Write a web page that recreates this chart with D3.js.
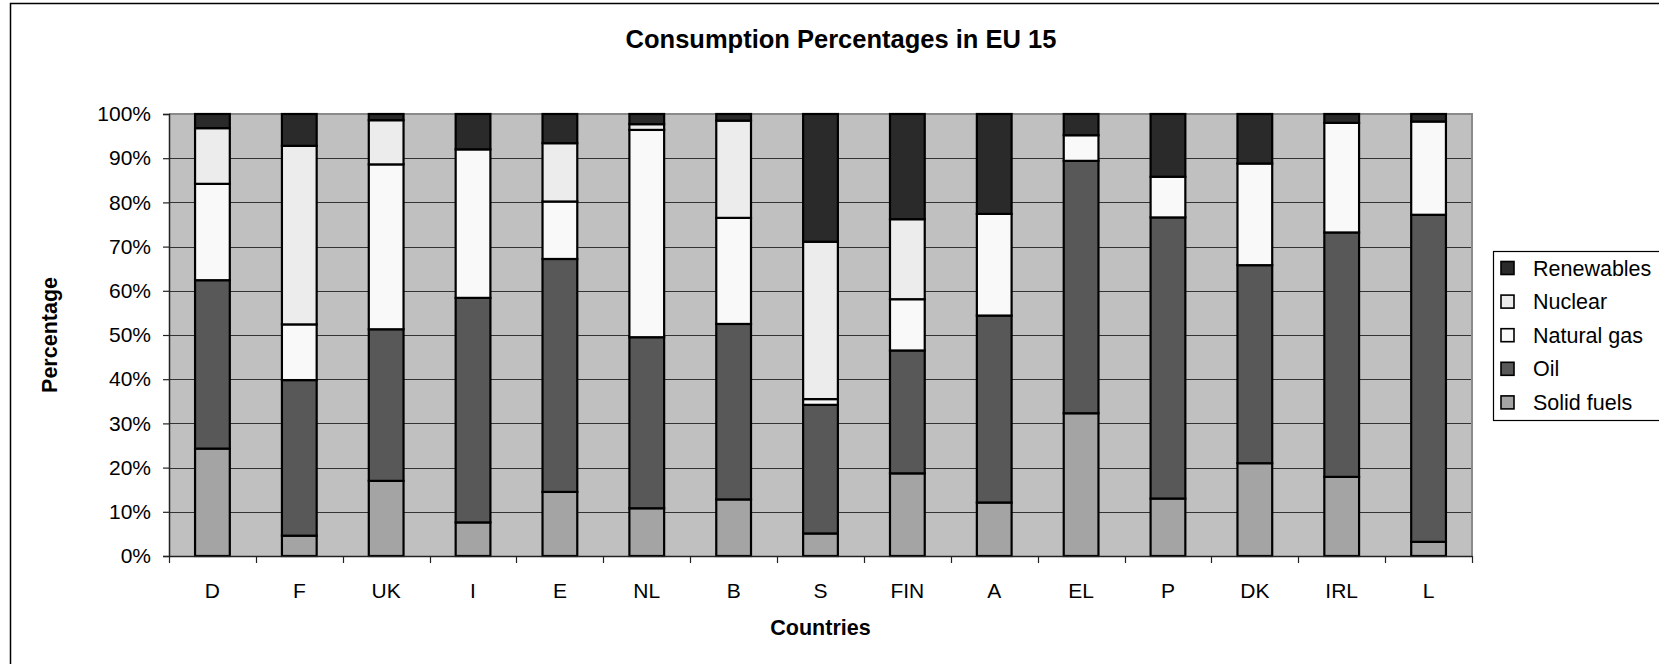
<!DOCTYPE html>
<html>
<head>
<meta charset="utf-8">
<script src="https://cdn.jsdelivr.net/npm/d3@7/dist/d3.min.js"></script>
<style>
  html, body { margin: 0; padding: 0; background: #fff; }
  svg { display: block; font-family: "Liberation Sans", Arial, sans-serif; }
</style>
</head>
<body>
<svg id="chart" width="1659" height="664"></svg>
<script>
// Energy consumption shares by country (percent of total)
const countries = ["D", "F", "UK", "I", "E", "NL", "B", "S", "FIN", "A", "EL", "P", "DK", "IRL", "L"];
const solidFuels = [24.3, 4.6, 17.0, 7.6, 14.5, 10.8, 12.8, 5.1, 18.7, 12.1, 32.3, 13.0, 21.0, 17.9, 3.2];
const oil        = [38.1, 35.2, 34.3, 50.8, 52.7, 38.7, 39.7, 29.1, 27.8, 42.3, 57.1, 63.6, 44.8, 55.3, 74.0];
const naturalGas = [21.8, 12.6, 37.3, 33.6, 13.0, 46.9, 24.0, 1.3, 11.6, 23.0, 5.8, 9.2, 23.0, 24.8, 21.1];
const nuclear    = [12.6, 40.4, 10.0, 0, 13.2, 1.3, 22.0, 35.6, 18.1, 0, 0, 0, 0, 0, 0];
const renewables = [3.2, 7.2, 1.4, 8.0, 6.6, 2.3, 1.5, 28.9, 23.8, 22.6, 4.8, 14.2, 11.2, 2.0, 1.7];

const seriesNames = ["Solid fuels", "Oil", "Natural gas", "Nuclear", "Renewables"];
const seriesValues = [solidFuels, oil, naturalGas, nuclear, renewables];
const seriesColors = ["#a4a4a4", "#585858", "#f9f9f9", "#ececec", "#2a2a2a"];
const yTicks = [0, 10, 20, 30, 40, 50, 60, 70, 80, 90, 100];

const rows = countries.map((c, i) => {
  const r = { country: c };
  seriesNames.forEach((s, k) => { r[s] = seriesValues[k][i]; });
  return r;
});

const svg = d3.select("#chart");
const W = 1659, H = 664;
const plot = { left: 169, right: 1472, top: 114, bottom: 556 };

// Outer chart frame (runs off the right and bottom edges)
svg.append("rect")
  .attr("x", 10.5).attr("y", 3.5)
  .attr("width", W + 20).attr("height", H + 20)
  .attr("fill", "#fff").attr("stroke", "#000").attr("stroke-width", 1.5);

const x = d3.scaleBand()
  .domain(countries)
  .range([plot.left, plot.right])
  .paddingInner(0.6)
  .paddingOuter(0.3);

const y = d3.scaleLinear()
  .domain([0, 100])
  .range([plot.bottom, plot.top]);

// Plot area background
svg.append("rect")
  .attr("x", plot.left).attr("y", plot.top)
  .attr("width", plot.right - plot.left).attr("height", plot.bottom - plot.top)
  .attr("fill", "#c0c0c0");

// Horizontal gridlines
svg.append("g")
  .selectAll("line")
  .data(yTicks.filter(t => t > 0 && t < 100))
  .join("line")
  .attr("x1", plot.left).attr("x2", plot.right)
  .attr("y1", d => Math.round(y(d)) + 0.5).attr("y2", d => Math.round(y(d)) + 0.5)
  .attr("stroke", "#333").attr("stroke-width", 1.2);

// Plot border on top and right
svg.append("path")
  .attr("d", `M${plot.left},${plot.top} H${plot.right} V${plot.bottom}`)
  .attr("fill", "none").attr("stroke", "#8a8a8a").attr("stroke-width", 2);

// Stacked bars
const stack = d3.stack().keys(seriesNames);
const layers = stack(rows);

svg.append("g")
  .selectAll("g")
  .data(layers)
  .join("g")
  .attr("fill", (d, i) => seriesColors[i])
  .selectAll("rect")
  .data(d => d.filter(p => p[1] - p[0] > 0))
  .join("rect")
  .attr("x", d => x(d.data.country))
  .attr("width", x.bandwidth())
  .attr("y", d => y(d[1]))
  .attr("height", d => y(d[0]) - y(d[1]))
  .attr("stroke", "#000")
  .attr("stroke-width", 2.2);

// Y axis
const yAxis = d3.axisLeft(y)
  .tickValues(yTicks)
  .tickFormat(d => d + "%")
  .tickSize(6)
  .tickPadding(12);

const gy = svg.append("g")
  .attr("transform", `translate(${plot.left},0)`)
  .call(yAxis);
gy.select(".domain").attr("stroke", "#222").attr("stroke-width", 1.5);
gy.selectAll(".tick line").attr("stroke", "#222").attr("stroke-width", 1.2);
gy.selectAll(".tick text")
  .attr("font-size", 21).attr("fill", "#000")
  .attr("font-family", "Liberation Sans, Arial, sans-serif");

// X axis: ticks on category boundaries
const xAxis = d3.axisBottom(x).tickSize(0).tickPadding(27);
const gx = svg.append("g")
  .attr("transform", `translate(0,${plot.bottom})`)
  .call(xAxis);
gx.select(".domain").attr("stroke", "#222").attr("stroke-width", 1.5);
gx.selectAll(".tick text")
  .attr("font-size", 21).attr("fill", "#000")
  .attr("font-family", "Liberation Sans, Arial, sans-serif");

const boundaries = countries.map(c => x(c) - x.step() * x.paddingOuter()).concat([plot.right]);
gx.append("g")
  .selectAll("line")
  .data(boundaries)
  .join("line")
  .attr("x1", d => Math.round(d) + 0.5).attr("x2", d => Math.round(d) + 0.5)
  .attr("y1", 0).attr("y2", 7)
  .attr("stroke", "#222").attr("stroke-width", 1.2);

// Title and axis titles
svg.append("text")
  .attr("x", 841).attr("y", 48)
  .attr("text-anchor", "middle")
  .attr("font-size", 25.5).attr("font-weight", "bold")
  .text("Consumption Percentages in EU 15");

svg.append("text")
  .attr("x", (plot.left + plot.right) / 2).attr("y", 635)
  .attr("text-anchor", "middle")
  .attr("font-size", 21.5).attr("font-weight", "bold")
  .text("Countries");

svg.append("text")
  .attr("transform", `translate(57,${(plot.top + plot.bottom) / 2}) rotate(-90)`)
  .attr("text-anchor", "middle")
  .attr("font-size", 21.5).attr("font-weight", "bold")
  .text("Percentage");

// Legend
const legend = svg.append("g");
legend.append("rect")
  .attr("x", 1493.5).attr("y", 251.5)
  .attr("width", 200).attr("height", 169)
  .attr("fill", "#fff").attr("stroke", "#000").attr("stroke-width", 1.2);

const legendItems = seriesNames.map((s, i) => ({ name: s, color: seriesColors[i] })).reverse();
const li = legend.selectAll("g.item")
  .data(legendItems)
  .join("g")
  .attr("class", "item")
  .attr("transform", (d, i) => `translate(0,${268 + i * 33.6})`);

li.append("rect")
  .attr("x", 1501).attr("y", -6.5)
  .attr("width", 13).attr("height", 13)
  .attr("fill", d => d.color)
  .attr("stroke", "#000").attr("stroke-width", 1.6);

li.append("text")
  .attr("x", 1533).attr("y", 7.5)
  .attr("font-size", 21.5)
  .text(d => d.name);
</script>
